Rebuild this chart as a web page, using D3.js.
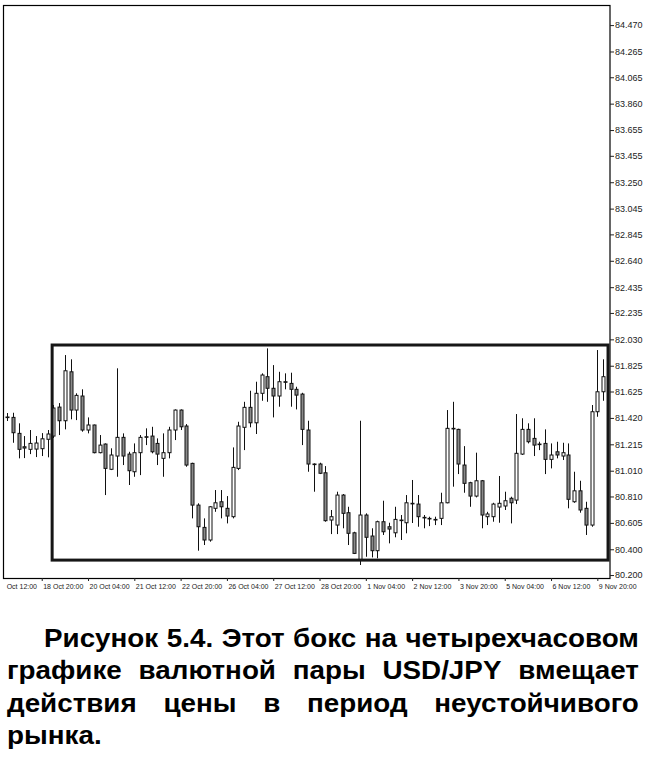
<!DOCTYPE html>
<html>
<head>
<meta charset="utf-8">
<script src="https://cdn.jsdelivr.net/npm/d3@7"></script>
<style>
  html, body { margin: 0; padding: 0; background: #fff; }
  svg { display: block; }
</style>
</head>
<body>
<svg id="chart" width="650" height="768"></svg>
<script>
// USD/JPY, H4 bars: open / high / low / close
const openP = [
  81.427, 81.424, 81.300, 81.196, 81.176, 81.178, 81.181, 81.254, 81.279, 81.504,
  81.398, 81.778, 81.481, 81.590, 81.326, 81.365, 81.150, 81.217, 81.021, 81.124,
  81.269, 81.139, 81.002, 81.150, 81.274, 81.279, 81.222, 81.106, 81.150, 81.326,
  81.481, 81.357, 81.067, 80.743, 80.570, 80.472, 80.718, 80.769, 80.718, 80.653,
  81.028, 81.347, 81.502, 81.382, 81.611, 81.740, 81.650, 81.590, 81.701, 81.688,
  81.642, 81.605, 81.326, 81.062, 81.062, 80.994, 80.627, 80.588, 80.821, 80.684,
  80.528, 80.316, 80.666, 80.503, 80.389, 80.614, 80.575, 80.528, 80.627, 80.606,
  80.757, 80.751, 80.648, 80.640, 80.632, 80.640, 80.761, 81.339, 81.331, 81.054,
  80.917, 80.813, 80.932, 80.653, 80.653, 80.728, 80.736, 80.796, 80.782, 81.139,
  81.331, 81.261, 81.217, 81.222, 81.098, 81.157, 81.124, 81.132, 80.769, 80.854,
  80.718, 80.588, 81.468, 81.623
];
const highP = [
  81.458, 81.460, 81.378, 81.279, 81.326, 81.279, 81.302, 81.326, 81.520, 81.535,
  81.908, 81.875, 81.611, 81.642, 81.424, 81.368, 81.287, 81.222, 81.184, 81.805,
  81.300, 81.157, 81.222, 81.287, 81.339, 81.351, 81.261, 81.300, 81.351, 81.486,
  81.486, 81.372, 81.072, 80.757, 80.640, 80.736, 80.860, 80.860, 80.813, 81.191,
  81.390, 81.545, 81.631, 81.701, 81.766, 81.960, 81.830, 81.778, 81.766, 81.771,
  81.662, 81.615, 81.398, 81.067, 81.072, 81.046, 80.705, 80.847, 80.829, 80.730,
  80.536, 81.398, 80.679, 80.563, 80.622, 80.777, 80.606, 80.730, 80.666, 80.821,
  80.938, 80.821, 80.666, 80.653, 80.653, 80.839, 81.481, 81.545, 81.336, 81.201,
  80.924, 81.150, 80.938, 80.691, 80.761, 80.969, 80.847, 80.808, 81.450, 81.417,
  81.378, 81.417, 81.235, 81.331, 81.222, 81.235, 81.227, 81.222, 81.002, 80.932,
  80.769, 81.520, 81.947, 81.875
];
const lowP = [
  81.396, 81.227, 81.106, 81.108, 81.139, 81.116, 81.124, 81.114, 81.264, 81.287,
  81.331, 81.409, 81.403, 81.313, 81.300, 81.145, 81.145, 80.821, 81.015, 80.963,
  81.054, 80.899, 80.963, 80.976, 81.209, 81.145, 81.054, 80.963, 81.106, 81.248,
  81.326, 81.041, 80.640, 80.389, 80.433, 80.459, 80.691, 80.640, 80.601, 80.640,
  81.015, 81.170, 81.347, 81.295, 81.553, 81.545, 81.424, 81.507, 81.642, 81.507,
  81.486, 81.209, 81.002, 80.847, 80.984, 80.614, 80.518, 80.518, 80.563, 80.433,
  80.363, 80.278, 80.342, 80.337, 80.330, 80.511, 80.446, 80.493, 80.472, 80.524,
  80.604, 80.575, 80.563, 80.580, 80.588, 80.588, 80.757, 80.886, 80.984, 80.839,
  80.730, 80.803, 80.563, 80.588, 80.614, 80.606, 80.705, 80.601, 80.751, 81.132,
  81.222, 81.124, 81.170, 80.984, 81.028, 81.106, 81.093, 80.718, 80.761, 80.684,
  80.511, 80.575, 81.429, 81.553
];
const closeP = [
  81.425, 81.305, 81.176, 81.186, 81.222, 81.225, 81.258, 81.295, 81.497, 81.398,
  81.786, 81.481, 81.595, 81.326, 81.365, 81.150, 81.209, 81.028, 81.132, 81.269,
  81.124, 81.010, 81.150, 81.269, 81.272, 81.157, 81.139, 81.150, 81.326, 81.481,
  81.351, 81.054, 80.743, 80.575, 80.472, 80.730, 80.761, 80.730, 80.658, 81.036,
  81.357, 81.502, 81.382, 81.611, 81.753, 81.650, 81.590, 81.701, 81.698, 81.642,
  81.597, 81.331, 81.062, 81.059, 80.990, 80.622, 80.653, 80.821, 80.679, 80.524,
  80.368, 80.666, 80.493, 80.389, 80.614, 80.536, 80.557, 80.632, 80.624, 80.761,
  80.754, 80.653, 80.645, 80.637, 80.629, 80.761, 81.339, 81.335, 81.062, 80.912,
  80.813, 80.932, 80.666, 80.674, 80.751, 80.757, 80.777, 80.761, 81.145, 81.331,
  81.235, 81.209, 81.214, 81.098, 81.132, 81.132, 81.150, 80.788, 80.854, 80.705,
  80.588, 81.468, 81.623, 81.740
];

// price scale labels
const yTickValues = [
  84.470, 84.265, 84.065, 83.860, 83.655, 83.455, 83.250, 83.045, 82.845, 82.640,
  82.435, 82.235, 82.030, 81.825, 81.625, 81.420, 81.215, 81.010, 80.810, 80.605,
  80.400, 80.200
];

// time scale labels, one every 8 bars
const xTickBars = [-2, 6, 14, 22, 30, 38, 46, 54, 62, 70, 78, 86, 94, 102];
const xTickLabels = [
  "17 Oct 12:00", "18 Oct 20:00", "20 Oct 04:00", "21 Oct 12:00", "22 Oct 20:00",
  "26 Oct 04:00", "27 Oct 12:00", "28 Oct 20:00", "1 Nov 04:00", "2 Nov 12:00",
  "3 Nov 20:00", "5 Nov 04:00", "6 Nov 12:00", "9 Nov 20:00"
];

// trading range box: from bar to bar, upper and lower price
const boxBars = [7.8, 103.85];
const boxPrices = [81.986, 80.316];

const captionLines = [
  "Рисунок 5.4. Этот бокс на четырехчасовом",
  "графике валютной пары USD/JPY вмещает",
  "действия цены в период неустойчивого",
  "рынка."
];

const bars = openP.map((o, i) => ({
  i, o, h: highP[i], l: lowP[i], c: closeP[i]
}));

const svg = d3.select("#chart");

const plot = { left: 3, top: 5, right: 610, bottom: 578 };

const x = d3.scaleLinear()
  .domain([-0.69, 104.19])
  .range([plot.left, plot.right]);

const y = d3.scaleLinear()
  .domain([80.177, 84.626])
  .range([plot.bottom, plot.top]);

const axisFont = "'Liberation Sans', Arial, sans-serif";

// plot frame
svg.append("rect")
  .attr("x", plot.left + 0.5)
  .attr("y", plot.top + 0.5)
  .attr("width", plot.right - plot.left - 0.5)
  .attr("height", plot.bottom - plot.top)
  .attr("fill", "none")
  .attr("stroke", "#000")
  .attr("stroke-width", 1.2);

// price axis on the right
const yAxis = d3.axisRight(y)
  .tickValues(yTickValues)
  .tickSize(4)
  .tickPadding(1)
  .tickFormat(d3.format(".3f"));

const gy = svg.append("g")
  .attr("transform", `translate(${plot.right},0)`)
  .call(yAxis);
gy.select(".domain").remove();
gy.selectAll("line").attr("stroke", "#222");
gy.selectAll("text")
  .attr("fill", "#222")
  .style("font-family", axisFont)
  .style("font-size", "9px");

// time axis at the bottom; labels are cut at the chart's left border
svg.append("clipPath").attr("id", "xclip")
  .append("rect")
  .attr("x", plot.left + 2).attr("y", 0)
  .attr("width", 650).attr("height", 30);

const xAxis = d3.axisBottom(x)
  .tickValues(xTickBars)
  .tickSize(3)
  .tickFormat((d, i) => xTickLabels[i]);

const gx = svg.append("g")
  .attr("transform", `translate(0,${plot.bottom})`)
  .attr("clip-path", "url(#xclip)")
  .call(xAxis);
gx.select(".domain").remove();
gx.selectAll("line").attr("stroke", "#222");
gx.selectAll("text")
  .attr("fill", "#222")
  .attr("text-anchor", "start")
  .attr("x", 1)
  .attr("y", 6)
  .style("font-family", axisFont)
  .style("font-size", "7px");

// candles
const half = 1.5;
const g = svg.append("g").attr("class", "candles");
const candle = g.selectAll("g.bar")
  .data(bars)
  .join("g")
  .attr("class", "bar");

const cx = d => Math.round(x(d.i)) + 0.5;

candle.append("line")
  .attr("x1", cx).attr("x2", cx)
  .attr("y1", d => y(d.h))
  .attr("y2", d => y(d.l))
  .attr("stroke", "#111")
  .attr("stroke-width", 1);

candle.append("rect")
  .attr("x", d => cx(d) - half)
  .attr("width", half * 2)
  .attr("y", d => y(Math.max(d.o, d.c)))
  .attr("height", d => Math.max(0.6, Math.abs(y(d.o) - y(d.c))))
  .attr("fill", d => d.c >= d.o ? "#fff" : "#8a8a8a")
  .attr("stroke", "#111")
  .attr("stroke-width", 1);

// trading range box
svg.append("rect")
  .attr("x", x(boxBars[0]))
  .attr("y", y(boxPrices[0]))
  .attr("width", x(boxBars[1]) - x(boxBars[0]))
  .attr("height", y(boxPrices[1]) - y(boxPrices[0]))
  .attr("fill", "none")
  .attr("stroke", "#161616")
  .attr("stroke-width", 3);

// caption, slightly widened bold type, justified between the margins
const capFont = "'Liberation Sans', Arial, sans-serif";
const capTop = 647, capStep = 32.4, capLeft = 7, capIndent = 44, capRight = 639;
const capStretch = 1.07;
const cap = svg.append("g").attr("class", "caption");

captionLines.forEach((line, li) => {
  const words = line.split(" ");
  const baseY = capTop + li * capStep;
  const nodes = words.map(w => cap.append("text")
    .attr("fill", "#000")
    .style("font-family", capFont)
    .style("font-weight", "bold")
    .style("font-size", "26px")
    .text(w));
  const widths = nodes.map(n => n.node().getComputedTextLength() * capStretch);
  const total = d3.sum(widths);
  const x0 = li === 0 ? capIndent : capLeft;
  const last = li === captionLines.length - 1;
  const gap = (!last && words.length > 1) ? (capRight - x0 - total) / (words.length - 1) : 7;
  let pos = x0;
  nodes.forEach((n, k) => {
    n.attr("transform", `translate(${pos},${baseY}) scale(${capStretch},1)`);
    pos += widths[k] + gap;
  });
});
</script>
</body>
</html>
